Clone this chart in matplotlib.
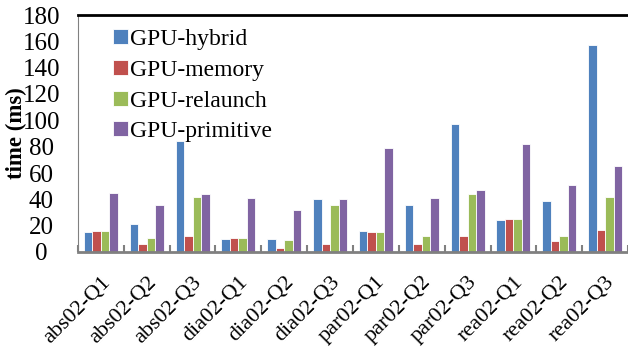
import numpy as np
import matplotlib
matplotlib.use("Agg")
import matplotlib.pyplot as plt

plt.rcParams['font.family'] = ['Liberation Serif', 'DejaVu Serif']

queries = ["abs02-Q1", "abs02-Q2", "abs02-Q3", "dia02-Q1", "dia02-Q2", "dia02-Q3",
           "par02-Q1", "par02-Q2", "par02-Q3", "rea02-Q1", "rea02-Q2", "rea02-Q3"]
gpu_hybrid = [15, 21, 84, 10, 10, 40, 16, 36, 97, 24, 39, 157]
gpu_memory = [16, 6, 12, 11, 3, 6, 15, 6, 12, 25, 8, 17]
gpu_relaunch = [16, 11, 42, 11, 9, 36, 15, 12, 44, 25, 12, 42]
gpu_primitive = [45, 36, 44, 41, 32, 40, 79, 41, 47, 82, 51, 65]

series = [
    ("GPU-hybrid", gpu_hybrid, "#4F81BD"),
    ("GPU-memory", gpu_memory, "#C0504D"),
    ("GPU-relaunch", gpu_relaunch, "#9BBB59"),
    ("GPU-primitive", gpu_primitive, "#8064A2"),
]

fig = plt.figure(figsize=(6.28, 3.51), dpi=100)
ax = fig.add_axes([78 / 628, 1 - 252 / 351, 550 / 628, (252 - 15) / 351])

x = np.arange(len(queries))
w = 0.185
for i, (name, vals, color) in enumerate(series):
    ax.bar(x + (i - 1.5) * w, vals, w, color=color, edgecolor="white",
           linewidth=0.6, label=name, zorder=2)

ax.set_xlim(-0.5, len(queries) - 0.5)
ax.set_ylim(0, 180)
ax.set_yticks(range(0, 181, 20))
ax.tick_params(axis="y", length=0, labelsize=18, pad=26.5)
for lab in ax.get_yticklabels():
    lab.set_horizontalalignment("center")

ax.set_xticks(x)
ax.set_xticklabels(queries, rotation=45, ha="right", rotation_mode="anchor", fontsize=16)
ax.tick_params(axis="x", length=0, pad=15)
ax.set_xticks(np.arange(-0.5, len(queries)), minor=True)
ax.tick_params(axis="x", which="minor", length=5, direction="in", color="#808080", width=1.5)

ax.spines["top"].set_linewidth(2)
ax.spines["top"].set_color("black")
ax.spines["right"].set_visible(False)
ax.spines["left"].set_color("#808080")
ax.spines["bottom"].set_color("#808080")
ax.spines["bottom"].set_linewidth(2)

ax.set_ylabel("time (ms)", fontsize=16.5, fontweight="bold")
ax.yaxis.set_label_coords(-0.093, 0.5)

ax.legend(loc="upper left", bbox_to_anchor=(0.038, 1.0), frameon=False, fontsize=17,
          handlelength=0.63, handleheight=0.6, handletextpad=0.1, labelspacing=0.41,
          borderaxespad=0.2)

fig.savefig("out.png", dpi=100)
